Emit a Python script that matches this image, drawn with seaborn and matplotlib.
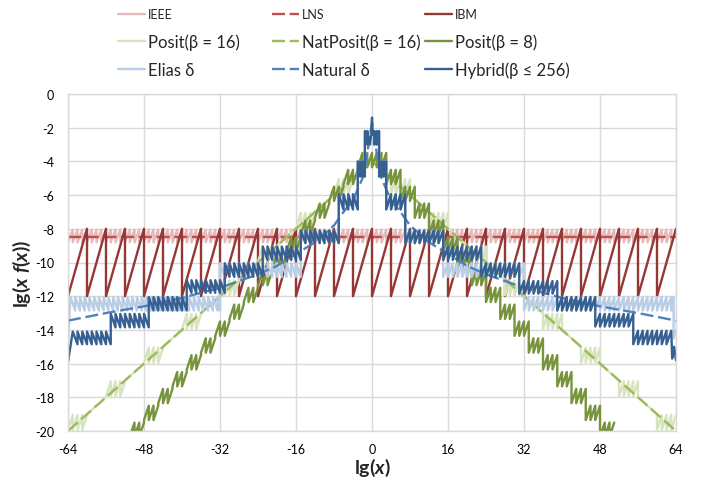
import numpy as np
import pandas as pd
import matplotlib.pyplot as plt
import seaborn as sns
from matplotlib.lines import Line2D

# values: x = lg(x), y = lg(x f(x))
# ('saw', x0, x1, y_a, y_b, w) = run of teeth w wide, each going y_a -> y_b then jumping back
# ('pt', x, y)                 = a single vertex

ieee = [('saw', -64, 64, -8.8, -8.05, 1)]
lns_x = [-64, 64]
lns_y = [-8.47, -8.47]
ibm = [('saw', -64, 64, -12.0, -8.0, 4)]

posit16 = [
    ('saw', -64, -60, -19.95, -19.05, 1), ('pt', -60, -19.0), ('pt', -56, -18.0),
    ('saw', -56, -52, -17.95, -17.05, 1), ('pt', -52, -17.0), ('pt', -48, -16.0),
    ('saw', -48, -44, -15.95, -15.05, 1), ('pt', -44, -15.0), ('pt', -40, -14.0),
    ('saw', -40, -36, -13.95, -13.05, 1), ('pt', -36, -13.0), ('pt', -32, -12.0),
    ('saw', -32, -28, -11.95, -11.05, 1), ('pt', -28, -11.0), ('pt', -24, -10.0),
    ('saw', -24, -20, -9.95, -9.05, 1), ('pt', -20, -9.0), ('pt', -16, -8.0),
    ('saw', -16, -12, -7.95, -7.05, 1), ('pt', -12, -7.0), ('pt', -8, -6.0),
    ('saw', -8, -4, -5.95, -5.05, 1), ('pt', -4, -5.0), ('pt', 0, -4.0), ('pt', 4, -5.0),
    ('saw', 4, 8, -5.95, -5.05, 1), ('pt', 8, -6.0), ('pt', 12, -7.0),
    ('saw', 12, 16, -7.95, -7.05, 1), ('pt', 16, -8.0), ('pt', 20, -9.0),
    ('saw', 20, 24, -9.95, -9.05, 1), ('pt', 24, -10.0), ('pt', 28, -11.0),
    ('saw', 28, 32, -11.95, -11.05, 1), ('pt', 32, -12.0), ('pt', 36, -13.0),
    ('saw', 36, 40, -13.95, -13.05, 1), ('pt', 40, -14.0), ('pt', 44, -15.0),
    ('saw', 44, 48, -15.95, -15.05, 1), ('pt', 48, -16.0), ('pt', 52, -17.0),
    ('saw', 52, 56, -17.95, -17.05, 1), ('pt', 56, -18.0), ('pt', 60, -19.0),
    ('saw', 60, 64, -19.95, -19.05, 1),
]

natposit_x = [-64, 0, 64]
natposit_y = [-20.0, -4.0, -20.0]

posit8 = [
    ('saw', -51, -48, -20.35, -19.5, 1), ('saw', -48, -45, -19.35, -18.5, 1),
    ('saw', -45, -42, -18.35, -17.5, 1), ('saw', -42, -39, -17.35, -16.5, 1),
    ('saw', -39, -36, -16.35, -15.5, 1), ('saw', -36, -33, -15.35, -14.5, 1),
    ('saw', -33, -30, -14.35, -13.5, 1), ('saw', -30, -27, -13.35, -12.5, 1),
    ('saw', -27, -24, -12.35, -11.5, 1), ('saw', -24, -21, -11.35, -10.5, 1),
    ('saw', -21, -18, -10.35, -9.5, 1), ('saw', -18, -15, -9.35, -8.5, 1),
    ('saw', -15, -12, -8.35, -7.5, 1), ('saw', -12, -9, -7.35, -6.5, 1),
    ('saw', -9, -6, -6.35, -5.5, 1), ('saw', -6, -3, -5.35, -4.5, 1),
    ('saw', -3, 0, -4.35, -3.5, 1),
    ('saw', 0, 3, -4.35, -3.5, 1), ('saw', 3, 6, -5.35, -4.5, 1),
    ('saw', 6, 9, -6.35, -5.5, 1), ('saw', 9, 12, -7.35, -6.5, 1),
    ('saw', 12, 15, -8.35, -7.5, 1), ('saw', 15, 18, -9.35, -8.5, 1),
    ('saw', 18, 21, -10.35, -9.5, 1), ('saw', 21, 24, -11.35, -10.5, 1),
    ('saw', 24, 27, -12.35, -11.5, 1), ('saw', 27, 30, -13.35, -12.5, 1),
    ('saw', 30, 33, -14.35, -13.5, 1), ('saw', 33, 36, -15.35, -14.5, 1),
    ('saw', 36, 39, -16.35, -15.5, 1), ('saw', 39, 42, -17.35, -16.5, 1),
    ('saw', 42, 45, -18.35, -17.5, 1), ('saw', 45, 48, -19.35, -18.5, 1),
    ('saw', 48, 51, -20.35, -19.5, 1),
]

# left half of the delta codes is the mirror image of the right half (falling teeth);
# centre of the Elias curve sits under the Hybrid curve in the original
elias = [
    ('pt', -64, -14.9),
    ('saw', -63.5, -32, -12.05, -12.85, 1), ('saw', -32, -15, -10.05, -10.85, 1),
    ('saw', -15, -7, -8.1, -8.85, 1), ('saw', -7, -3, -5.95, -6.85, 1),
    ('saw', -3, -1.5, -4.0, -4.9, 0.5), ('saw', -1.5, 0, -2.2, -3.0, 0.5),
    ('saw', 0, 1.5, -3.0, -2.2, 0.5),
    ('saw', 1.5, 3, -4.9, -4.0, 0.5), ('saw', 3, 7, -6.85, -5.95, 1),
    ('saw', 7, 15, -8.85, -8.1, 1), ('saw', 15, 32, -10.85, -10.05, 1),
    ('saw', 32, 63.5, -12.85, -12.05, 1),
    ('pt', 63.5, -14.5), ('pt', 64, -14.0),
]

natdelta_x = [-64, -56, -48, -40, -32, -28, -24, -20, -16, -12, -8, -6, -4, -2, -1, -0.5, 0,
              0.5, 1, 2, 4, 6, 8, 12, 16, 20, 24, 28, 32, 40, 48, 56, 64]
natdelta_y = [-13.45, -13.0, -12.6, -12.1, -11.5, -11.1, -10.7, -10.2, -9.5, -8.8, -7.8, -7.0,
              -6.3, -5.0, -3.5, -2.6, -1.7, -2.6, -3.5, -5.0, -6.3, -7.0, -7.8, -8.8, -9.5,
              -10.2, -10.7, -11.1, -11.5, -12.1, -12.6, -13.0, -13.45]

hybrid = [
    ('pt', -64, -15.9),
    ('saw', -63, -55, -14.1, -14.85, 1), ('saw', -55, -47, -13.05, -13.85, 1),
    ('saw', -47, -39, -12.05, -12.85, 1), ('saw', -39, -31, -11.05, -11.8, 1),
    ('saw', -31, -23, -10.05, -10.85, 1), ('saw', -23, -15, -9.05, -9.85, 1),
    ('saw', -15, -7, -8.1, -8.85, 1), ('pt', -7, -6.85),
    ('saw', -7, -3, -5.95, -6.85, 1),
    ('saw', -3, -1.5, -4.0, -4.9, 0.5), ('saw', -1.5, -0.5, -2.2, -3.0, 0.5),
    ('pt', -0.15, -2.4), ('pt', 0, -1.4), ('pt', 0.15, -2.4), ('pt', 0.5, -2.2),
    ('saw', 0.5, 1.5, -3.0, -2.2, 0.5),
    ('saw', 1.5, 3, -4.9, -4.0, 0.5), ('saw', 3, 7, -6.85, -5.95, 1),
    ('saw', 7, 15, -8.85, -8.1, 1), ('saw', 15, 23, -9.85, -9.05, 1),
    ('saw', 23, 31, -10.85, -10.05, 1), ('saw', 31, 39, -11.85, -11.1, 1),
    ('saw', 39, 47, -12.85, -12.05, 1), ('saw', 47, 55, -13.8, -13.05, 1),
    ('saw', 55, 63, -14.85, -14.05, 1),
    ('pt', 63.2, -15.7), ('pt', 63.6, -15.0), ('pt', 64, -15.8),
]

x_ticks = [-64, -48, -32, -16, 0, 16, 32, 48, 64]
y_ticks = [0, -2, -4, -6, -8, -10, -12, -14, -16, -18, -20]


def trace(parts):
    xs, ys = [], []
    for p in parts:
        if p[0] == 'pt':
            xs.append(p[1])
            ys.append(p[2])
            continue
        _, x0, x1, ya, yb, w = p
        b = x0
        while b < x1 - 1e-9:
            e = min(b + w, x1)
            xs += [b, e]
            ys += [ya, yb]
            b = e
    return pd.DataFrame({'lgx': xs, 'lgxf': ys})


sns.set_style('white')
plt.rcParams['font.family'] = ['Lato', 'DejaVu Sans']
plt.rcParams['axes.unicode_minus'] = False
plt.rcParams['mathtext.fontset'] = 'custom'
plt.rcParams['mathtext.rm'] = 'Lato'
plt.rcParams['mathtext.bf'] = 'Lato:bold'
plt.rcParams['mathtext.it'] = 'Lato:italic'
plt.rcParams['mathtext.bfit'] = 'Lato:italic:bold'

fig = plt.figure(figsize=(7.04, 4.85), dpi=100)
ax = fig.add_axes([68 / 704, 1 - 432 / 485, 608 / 704, 337 / 485])

dash = (0, (5.5, 2))
series = [
    ('IEEE', trace(ieee), '#E6B9B8', '-'),
    ('LNS', pd.DataFrame({'lgx': lns_x, 'lgxf': lns_y}), '#C0504D', dash),
    ('IBM', trace(ibm), '#953735', '-'),
    ('Posit(β = 16)', trace(posit16), '#D7E4BD', '-'),
    ('NatPosit(β = 16)', pd.DataFrame({'lgx': natposit_x, 'lgxf': natposit_y}), '#9BBB59', dash),
    ('Posit(β = 8)', trace(posit8), '#77933C', '-'),
    ('Elias δ', trace(elias), '#B9CDE5', '-'),
    ('Natural δ', pd.DataFrame({'lgx': natdelta_x, 'lgxf': natdelta_y}), '#4F81BD', dash),
    ('Hybrid(β ≤ 256)', trace(hybrid), '#376092', '-'),
]

handles = {}
for name, df, col, ls in series:
    sns.lineplot(data=df, x='lgx', y='lgxf', sort=False, estimator=None, color=col,
                 linewidth=1.7, linestyle=ls, ax=ax)
    handles[name] = Line2D([], [], color=col, lw=1.7, linestyle=ls)

ax.set_xlim(-64, 64)
ax.set_ylim(-20, 0)
ax.set_xticks(x_ticks)
ax.set_yticks(y_ticks)
ax.set_xticklabels([str(t) for t in x_ticks])
ax.set_yticklabels([str(t) for t in y_ticks])
ax.tick_params(length=0, labelsize=9, colors='#000000')
ax.tick_params(axis='x', pad=9)
ax.tick_params(axis='y', pad=10)
ax.grid(True, color='#D9D9D9', lw=1)
for s in ax.spines.values():
    s.set_color('#D9D9D9')
    s.set_linewidth(1)
ax.set_xlabel('')
ax.set_ylabel('')

fig.text(372 / 704, 1 - 468 / 485, r'$\mathbf{lg(}\mathbfit{x}\mathbf{)}$', fontsize=14,
         ha='center', va='center')
fig.text(22 / 704, 1 - 274 / 485, r'$\mathbf{lg(}\mathbfit{x\ f}\mathbf{(}\mathbfit{x}\mathbf{))}$',
         fontsize=14, ha='center', va='center', rotation=90)

# legend: 3 x 3 grid of single entries, row 1 in a smaller font
grid = [['IEEE', 'LNS', 'IBM'],
        ['Posit(β = 16)', 'NatPosit(β = 16)', 'Posit(β = 8)'],
        ['Elias δ', 'Natural δ', 'Hybrid(β ≤ 256)']]
col_x = [118, 272, 425]
row_y = [15, 43, 71]
for r, names in enumerate(grid):
    for name, cx in zip(names, col_x):
        fig.legend([handles[name]], [name], loc='center left',
                   bbox_to_anchor=(cx / 704, 1 - row_y[r] / 485), frameon=False,
                   fontsize=9 if r == 0 else 12, handlelength=1.6 * (12 / 9 if r == 0 else 1),
                   handletextpad=0.2 * (12 / 9 if r == 0 else 1), borderpad=0, borderaxespad=0)

fig.savefig('out.png', dpi=100)
